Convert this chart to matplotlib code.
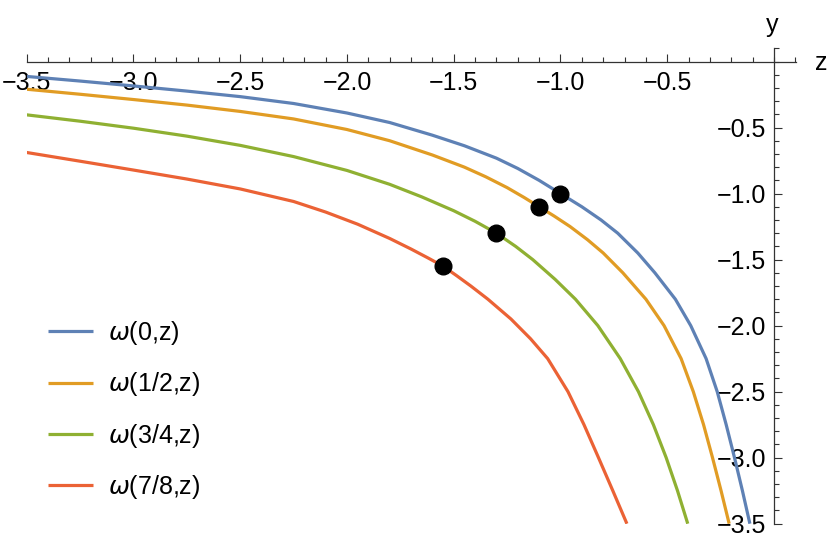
import matplotlib
matplotlib.use("Agg")
import matplotlib.pyplot as plt
from matplotlib.ticker import FixedLocator, MultipleLocator

# --- data (curves are mirror images about y = z) ---
series_labels = [r"$\omega$(0,z)", r"$\omega$(1/2,z)", r"$\omega$(3/4,z)", r"$\omega$(7/8,z)"]
series_colors = ["#5E81B5", "#E19C24", "#8FB032", "#EB6235"]

blue_z = [-3.5, -3.25, -3.0, -2.75, -2.5, -2.25, -2.0, -1.8, -1.6, -1.45, -1.3, -1.2, -1.1, -1.0,
          -0.90, -0.81, -0.732, -0.638, -0.558, -0.462, -0.39, -0.318, -0.266, -0.224, -0.185, -0.148, -0.113]
blue_y = [-0.113, -0.148, -0.185, -0.224, -0.266, -0.318, -0.39, -0.462, -0.558, -0.638, -0.732, -0.81, -0.90, -1.0,
          -1.1, -1.2, -1.3, -1.45, -1.6, -1.8, -2.0, -2.25, -2.5, -2.75, -3.0, -3.25, -3.5]

orange_z = [-3.5, -3.25, -3.0, -2.75, -2.5, -2.25, -2.0, -1.8, -1.6, -1.45, -1.35, -1.25, -1.17, -1.1,
            -1.03, -0.955, -0.873, -0.80, -0.708, -0.60, -0.515, -0.435, -0.378, -0.33, -0.288, -0.248, -0.21]
orange_y = [-0.21, -0.248, -0.288, -0.33, -0.378, -0.435, -0.515, -0.60, -0.708, -0.80, -0.873, -0.955, -1.03, -1.1,
            -1.17, -1.25, -1.35, -1.45, -1.6, -1.8, -2.0, -2.25, -2.5, -2.75, -3.0, -3.25, -3.5]

green_z = [-3.5, -3.25, -3.0, -2.75, -2.5, -2.25, -2.0, -1.8, -1.65, -1.5, -1.4, -1.3,
           -1.21, -1.13, -1.025, -0.93, -0.825, -0.72, -0.635, -0.565, -0.505, -0.452, -0.404]
green_y = [-0.404, -0.452, -0.505, -0.565, -0.635, -0.72, -0.825, -0.93, -1.025, -1.13, -1.21, -1.3,
           -1.4, -1.5, -1.65, -1.8, -2.0, -2.25, -2.5, -2.75, -3.0, -3.25, -3.5]

red_z = [-3.5, -3.25, -3.0, -2.75, -2.5, -2.25, -2.1, -1.95, -1.8, -1.7, -1.62, -1.55,
         -1.488, -1.42, -1.34, -1.232, -1.14, -1.06, -0.965, -0.89, -0.822, -0.755, -0.689]
red_y = [-0.689, -0.755, -0.822, -0.89, -0.965, -1.06, -1.14, -1.232, -1.34, -1.42, -1.488, -1.55,
         -1.62, -1.7, -1.8, -1.95, -2.1, -2.25, -2.5, -2.75, -3.0, -3.25, -3.5]

dot_z = [-1.0, -1.1, -1.3, -1.55]
dot_y = [-1.0, -1.1, -1.3, -1.55]

x_ticks = [-3.5, -3.0, -2.5, -2.0, -1.5, -1.0, -0.5]
x_tick_labels = ["−3.5", "−3.0", "−2.5", "−2.0", "−1.5", "−1.0", "−0.5"]
y_ticks = [-3.5, -3.0, -2.5, -2.0, -1.5, -1.0, -0.5]
y_tick_labels = ["−3.5", "−3.0", "−2.5", "−2.0", "−1.5", "−1.0", "−0.5"]

# --- figure ---
plt.rcParams['font.family'] = ['Liberation Sans', 'DejaVu Sans']
plt.rcParams['mathtext.fontset'] = 'dejavusans'
FS = 18
AX_COLOR = "#333333"
W, H = 830, 540

fig = plt.figure(figsize=(W / 100, H / 100), dpi=100)
ax = fig.add_axes([26.7 / W, 1 - 523.7 / H, (796 - 26.7) / W, (523.7 - 48.3) / H])

curves = [(blue_z, blue_y), (orange_z, orange_y), (green_z, green_y), (red_z, red_y)]
for (zs, ys), lab, col in zip(curves, series_labels, series_colors):
    ax.plot(zs, ys, color=col, lw=2.3, label=lab, solid_joinstyle='round',
            solid_capstyle='butt')

ax.plot(dot_z, dot_y, 'o', color='black', markersize=12, zorder=5, clip_on=False)

ax.set_xlim(-3.5, 0.103)
ax.set_ylim(-3.5, 0.10)

# axes through the origin, Mathematica style
ax.spines['top'].set_visible(False)
ax.spines['right'].set_visible(False)
ax.spines['bottom'].set_position(('data', 0))
ax.spines['left'].set_position(('data', 0))
for s in ('bottom', 'left'):
    ax.spines[s].set_color(AX_COLOR)
    ax.spines[s].set_linewidth(0.9)

ax.xaxis.set_major_locator(FixedLocator(x_ticks))
ax.xaxis.set_minor_locator(MultipleLocator(0.1))
ax.set_xticklabels(x_tick_labels)
ax.yaxis.set_major_locator(FixedLocator(y_ticks))
ax.yaxis.set_minor_locator(MultipleLocator(0.1))
ax.set_yticklabels(y_tick_labels)

ax.tick_params(axis='x', which='major', direction='in', length=5.8, width=0.8,
               color=AX_COLOR, labelsize=FS, pad=6.5)
ax.tick_params(axis='x', which='minor', direction='in', length=3.6, width=0.8, color=AX_COLOR)
ax.tick_params(axis='y', which='major', direction='in', length=5.8, width=0.8,
               color=AX_COLOR, labelsize=FS, pad=5.5)
ax.tick_params(axis='y', which='minor', direction='in', length=3.6, width=0.8, color=AX_COLOR)

# axis names
fig.text(821 / W, 1 - 70 / H, "z", fontsize=FS, ha='center', va='baseline')
fig.text(772 / W, 1 - 32 / H, "y", fontsize=FS, ha='center', va='baseline')

ax.legend(loc='upper left', bbox_to_anchor=(47.5 / W, 1 - 319 / H),
          bbox_transform=fig.transFigure, frameon=False, fontsize=FS,
          handlelength=1.82, handletextpad=0.6, labelspacing=0.93,
          borderpad=0, borderaxespad=0)

fig.savefig("out.png", dpi=100)
